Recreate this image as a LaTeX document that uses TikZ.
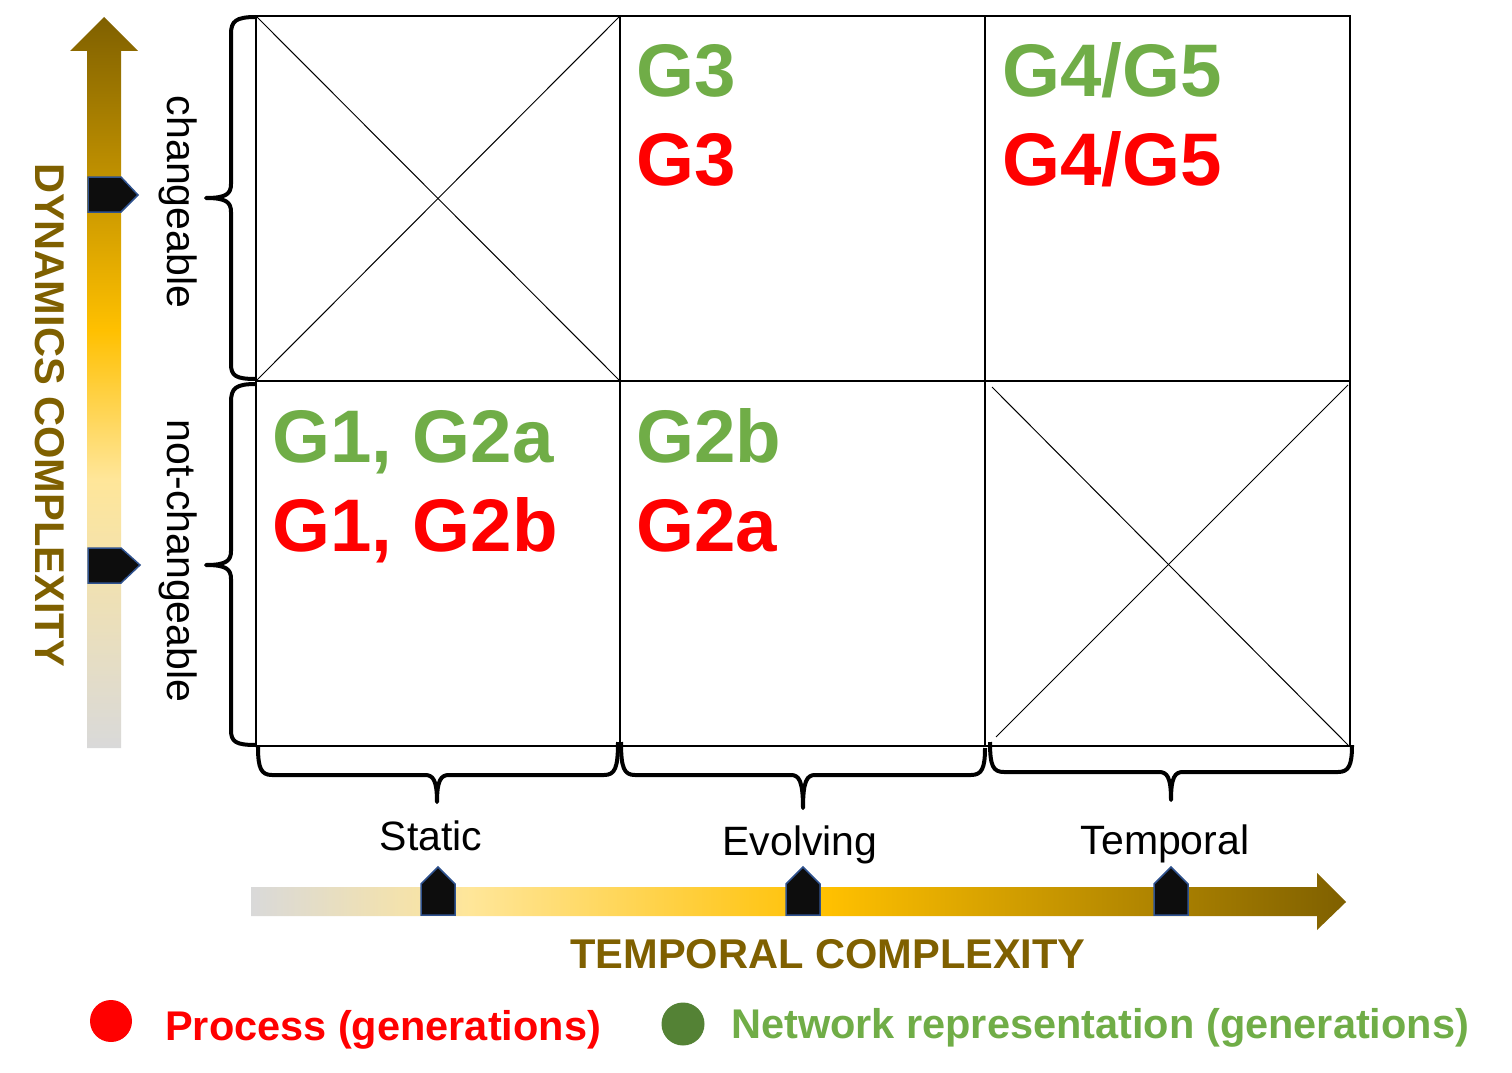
\documentclass[tikz,border=0pt]{standalone}
\usepackage{fontspec}
\setmainfont{Liberation Sans}
\definecolor{cgray}{HTML}{D9D9D9}
\definecolor{cly}{HTML}{FFE699}
\definecolor{cgold}{HTML}{FFC000}
\definecolor{cdk}{HTML}{7F6000}
\definecolor{cbrown}{HTML}{7F6000}
\definecolor{cgreen}{HTML}{70AD47}
\definecolor{cdgreen}{HTML}{548235}
\definecolor{cred}{HTML}{FF0000}
\definecolor{cmark}{HTML}{0D0D0D}
\definecolor{cmarkb}{HTML}{2F528F}
\pgfdeclarehorizontalshading{hgrad}{100bp}{color(0bp)=(cgray); color(25bp)=(cgray); color(35bp)=(cly); color(51.4bp)=(cgold); color(75bp)=(cdk); color(100bp)=(cdk)}
\pgfdeclareverticalshading{vgrad}{100bp}{color(0bp)=(cgray); color(25bp)=(cgray); color(43.4bp)=(cly); color(53.6bp)=(cgold); color(75bp)=(cdk); color(100bp)=(cdk)}
\begin{document}
\begin{tikzpicture}[x=1pt,y=-1pt,
  gridline/.style={line width=2pt,black},
  crossline/.style={line width=1pt,black},
  bracepath/.style={line width=4pt,black,line join=round},
  markerbox/.style={fill=cmark,draw=cmarkb,line width=1.5pt},
  big/.style={font=\fontsize{74.5}{80}\selectfont\bfseries,inner sep=0pt,anchor=base west},
  lab/.style={font=\fontsize{41}{48}\selectfont,inner sep=0pt,anchor=base},
  ttl/.style={font=\fontsize{41.6}{48}\selectfont\bfseries,inner sep=0pt,text=cbrown,anchor=base},
  leg/.style={font=\fontsize{41.5}{48}\selectfont\bfseries,inner sep=0pt,anchor=base west}]
\useasboundingbox (0,0) rectangle (1512,1073);
\fill[white] (0,0) rectangle (1512,1073);

% arrows
\shade[shading=vgrad] (87,748) -- (87,51) -- (70,51) -- (104,17) -- (138,51) -- (121,51) -- (121,748) -- cycle;
\shade[shading=hgrad] (251,887) -- (1317,887) -- (1317,873) -- (1346,902) -- (1317,930) -- (1317,916) -- (251,916) -- cycle;

% markers on the vertical arrow
\draw[markerbox] (88,177) -- (121,177) -- (138,195) -- (121,212) -- (88,212) -- cycle;
\draw[markerbox] (88,548) -- (121,548) -- (140,565) -- (121,583) -- (88,583) -- cycle;
% markers on the horizontal arrow
\draw[markerbox] (421,915) -- (421,884) -- (438,867) -- (455,884) -- (455,915) -- cycle;
\draw[markerbox] (786,915) -- (786,884) -- (803,867) -- (820,884) -- (820,915) -- cycle;
\draw[markerbox] (1154,915) -- (1154,884) -- (1171,867) -- (1188,884) -- (1188,915) -- cycle;

% grid
\draw[gridline] (256,16) rectangle (1350,746);
\draw[gridline] (620,16) -- (620,746);
\draw[gridline] (985,16) -- (985,746);
\draw[gridline] (256,381) -- (1350,381);
% crosses
\draw[crossline] (256,16) -- (620,381);
\draw[crossline] (620,16) -- (256,381);
\draw[crossline] (992,387) -- (1348,745);
\draw[crossline] (996,737) -- (1348,385);

% left braces
\draw[bracepath] (256,17) .. controls (236,17) and (231,21) .. (231,34) -- (231,184) .. controls (231,194) and (226,198) .. (206,198) .. controls (226,198) and (231,202) .. (231,212) -- (231,364) .. controls (231,376) and (236,379) .. (256,379);
\draw[bracepath] (256,384) .. controls (236,384) and (231,388) .. (231,402) -- (231,551) .. controls (231,561) and (226,565) .. (206,565) .. controls (226,565) and (231,569) .. (231,579) -- (231,730) .. controls (231,742) and (236,745) .. (256,745);
% bottom braces
\draw[bracepath] (258,747) .. controls (258,768) and (261,775) .. (272,775) -- (425,775) .. controls (433,775) and (437,780) .. (437,802) .. controls (437,780) and (441,775) .. (449,775) -- (604,775) .. controls (615,775) and (618,768) .. (618,742);
\draw[bracepath] (621,742) .. controls (621,768) and (624,775) .. (635,775) -- (791,775) .. controls (799,775) and (803,781) .. (803,808) .. controls (803,781) and (807,775) .. (815,775) -- (971,775) .. controls (982,775) and (985,768) .. (985,748);
\draw[bracepath] (990,742) .. controls (990,766) and (993,772) .. (1004,772) -- (1159,772) .. controls (1167,772) and (1171,777) .. (1171,800) .. controls (1171,777) and (1175,772) .. (1183,772) -- (1338,772) .. controls (1349,772) and (1352,765) .. (1352,745);

% cell texts
\node[big,text=cgreen] (g3n) at (636,96) {G3};
\node[big,text=cred] (g3p) at (636,185) {G3};
\node[big,text=cgreen] (g45n) at (1002,96) {G4/G5};
\node[big,text=cred] (g45p) at (1002,185) {G4/G5};
\node[big,text=cgreen] (g12n) at (272,462) {G1, G2a};
\node[big,text=cred] (g12p) at (272,551) {G1, G2b};
\node[big,text=cgreen] (g2bn) at (636,462) {G2b};
\node[big,text=cred] (g2ap) at (636,551) {G2a};

% axis labels
\node[lab] (static) at (431,850) {Static};
\node[lab] (evolving) at (800,855) {Evolving};
\node[lab] (temporal) at (1165,854) {Temporal};
\node[lab,rotate=-90] (chg) at (167,202) {changeable};
\node[lab,rotate=-90] (notchg) at (167,561) {not-changeable};
\node[ttl,rotate=-90] (dyn) at (35,415) {DYNAMICS COMPLEXITY};
\node[ttl] (tmp) at (828,968) {TEMPORAL COMPLEXITY};

% legend
\node[circle,fill=cred,minimum size=42pt,inner sep=0pt] (dotp) at (111,1021) {};
\node[leg,text=cred] (legp) at (165,1040) {Process (generations)};
\node[circle,fill=cdgreen,minimum size=43pt,inner sep=0pt] (dotn) at (683,1024) {};
\node[leg,text=cgreen] (legn) at (731,1038) {Network representation (generations)};
\end{tikzpicture}
\end{document}
